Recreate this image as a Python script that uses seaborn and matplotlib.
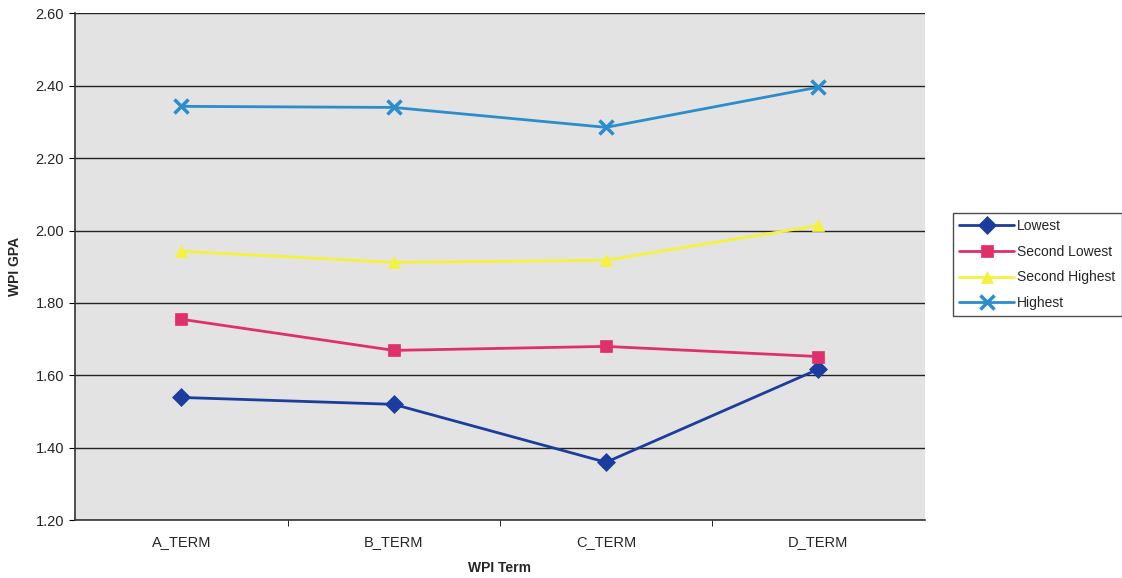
import numpy as np
import pandas as pd
import matplotlib
matplotlib.use("Agg")
import matplotlib.pyplot as plt
import seaborn as sns
from matplotlib.ticker import FixedLocator, FormatStrFormatter

terms = ["A_TERM", "B_TERM", "C_TERM", "D_TERM"]
lowest = [1.539, 1.520, 1.360, 1.617]
second_lowest = [1.755, 1.669, 1.680, 1.652]
second_highest = [1.943, 1.912, 1.918, 2.014]
highest = [2.343, 2.340, 2.285, 2.396]

series_names = ["Lowest", "Second Lowest", "Second Highest", "Highest"]
series_values = [lowest, second_lowest, second_highest, highest]

colors = {"Lowest": "#1b3d9e", "Second Lowest": "#e0306a",
          "Second Highest": "#f4f23c", "Highest": "#2b8dcc"}
markers = {"Lowest": "D", "Second Lowest": "s",
           "Second Highest": "^", "Highest": "x"}

sns.set_style("white")
plt.rcParams["font.family"] = ["Liberation Sans", "DejaVu Sans"]

fig = plt.figure(figsize=(11.22, 5.78), dpi=100)
ax = fig.add_axes([0.067, 0.100, 0.757, 0.877])
ax.set_facecolor("#e3e3e3")

for name, vals in zip(series_names, series_values):
    df = pd.DataFrame({"term": np.arange(len(terms)), "gpa": vals})
    is_x = markers[name] == "x"
    sns.lineplot(data=df, x="term", y="gpa", color=colors[name],
                 marker=markers[name], markersize=10 if is_x else 9,
                 markeredgewidth=2.5 if is_x else 0.5,
                 markeredgecolor=colors[name], linewidth=2,
                 sort=False, label=name, ax=ax, zorder=3)

ax.set_xlim(-0.5, len(terms) - 0.5)
ax.set_ylim(1.2, 2.6)
ax.yaxis.set_major_locator(FixedLocator(np.arange(1.2, 2.61, 0.2)))
ax.yaxis.set_major_formatter(FormatStrFormatter("%.2f"))
ax.set_xticks(range(len(terms)))
ax.set_xticklabels(terms)
ax.xaxis.set_minor_locator(FixedLocator(np.arange(0.5, len(terms) - 0.5, 1)))
ax.tick_params(axis="x", which="major", length=0, pad=11, labelsize=10.5)
ax.tick_params(axis="x", which="minor", length=4, color="black", direction="out",
               bottom=True)
ax.tick_params(axis="y", which="major", length=4, color="black", direction="out",
               labelsize=10.5, pad=4, left=True)

ax.grid(axis="y", color="#222222", linewidth=1.0)
ax.set_axisbelow(True)
for side in ["top", "right"]:
    ax.spines[side].set_visible(False)
for side in ["left", "bottom"]:
    ax.spines[side].set_color("#333333")
    ax.spines[side].set_linewidth(1.2)

ax.set_xlabel("WPI Term", fontweight="bold", fontsize=10, labelpad=8)
ax.set_ylabel("WPI GPA", fontweight="bold", fontsize=10, labelpad=10)

leg = ax.legend(loc="upper left", bbox_to_anchor=(1.033, 0.607),
                borderaxespad=0, frameon=True, fontsize=10,
                handlelength=4.0, handletextpad=0.2,
                borderpad=0.45, labelspacing=0.85, fancybox=False)
leg.get_frame().set_edgecolor("#222222")
leg.get_frame().set_facecolor("white")
leg.get_frame().set_linewidth(1.0)

fig.savefig("out.png", dpi=100, facecolor="white")
